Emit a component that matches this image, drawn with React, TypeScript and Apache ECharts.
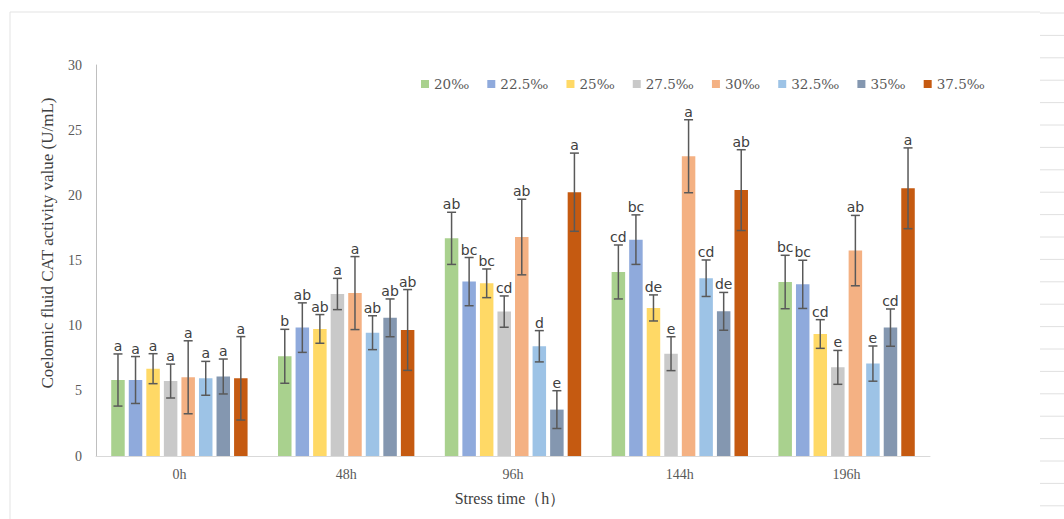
import React, { useEffect, useRef } from "react";
import * as echarts from "echarts";

const categories = ["0h", "48h", "96h", "144h", "196h"];
const seriesNames = ["20‰", "22.5‰", "25‰", "27.5‰", "30‰", "32.5‰", "35‰", "37.5‰"];
const colors = ["#A9D18E", "#8FAADC", "#FFD966", "#C9C9C9", "#F4B183", "#9DC3E6", "#8497B0", "#C55A11"];

// values per salinity series across the 5 time points
const v20 = [5.83, 7.65, 16.7, 14.12, 13.35];
const v225 = [5.83, 9.85, 13.38, 16.6, 13.17];
const v25 = [6.7, 9.75, 13.25, 11.36, 9.36];
const v275 = [5.75, 12.43, 11.08, 7.85, 6.8];
const v30 = [6.04, 12.5, 16.8, 23.0, 15.76];
const v325 = [5.96, 9.46, 8.42, 13.64, 7.09];
const v35 = [6.1, 10.6, 3.56, 11.1, 9.85];
const v375 = [5.96, 9.67, 20.24, 20.4, 20.54];

const e20 = [2.0, 2.07, 2.0, 2.07, 2.05];
const e225 = [1.8, 1.9, 1.85, 1.9, 1.85];
const e25 = [1.15, 1.1, 1.1, 1.0, 1.1];
const e275 = [1.3, 1.2, 1.2, 1.3, 1.3];
const e30 = [2.8, 2.8, 2.9, 2.8, 2.7];
const e325 = [1.3, 1.3, 1.2, 1.4, 1.35];
const e35 = [1.34, 1.45, 1.45, 1.45, 1.43];
const e375 = [3.2, 3.1, 3.0, 3.1, 3.1];

const l20 = ["a", "b", "ab", "cd", "bc"];
const l225 = ["a", "ab", "bc", "bc", "bc"];
const l25 = ["a", "ab", "bc", "de", "cd"];
const l275 = ["a", "a", "cd", "e", "e"];
const l30 = ["a", "a", "ab", "a", "ab"];
const l325 = ["a", "ab", "d", "cd", "e"];
const l35 = ["a", "ab", "e", "de", "cd"];
const l375 = ["a", "ab", "a", "ab", "a"];

const yTicks = { min: 0, max: 30, interval: 5 };

const values = [v20, v225, v25, v275, v30, v325, v35, v375];
const errors = [e20, e225, e25, e275, e30, e325, e35, e375];
const letters = [l20, l225, l25, l275, l30, l325, l35, l375];

const BAR_W = 13.5;
const BAR_GAP = 0.3;
const SERIF = "'Liberation Serif', 'Times New Roman', serif";

export default function App() {
  const ref = useRef<HTMLDivElement>(null);
  useEffect(() => {
    if (!ref.current) return;
    const chart = echarts.init(ref.current, null, { renderer: "svg" });
    const n = seriesNames.length;
    const pitch = BAR_W * (1 + BAR_GAP);

    const bars = seriesNames.map((name, i) => ({
      name,
      type: "bar",
      data: values[i],
      barWidth: BAR_W,
      barGap: BAR_GAP * 100 + "%",
      itemStyle: { color: colors[i] },
      z: 2,
    }));

    const errs = seriesNames.map((name, i) => ({
      name: "err_" + name,
      type: "custom",
      z: 5,
      data: values[i].map((v, k) => [k, v, errors[i][k]]),
      renderItem: (params: any, api: any) => {
        const k = api.value(0);
        const v = api.value(1);
        const e = api.value(2);
        const letter = letters[i][params.dataIndex];
        const off = (i - (n - 1) / 2) * pitch;
        const top = api.coord([k, v + e]);
        const bot = api.coord([k, v - e]);
        const x = top[0] + off;
        const cap = 4.5;
        const ls = { stroke: "#595959", lineWidth: 1.5 };
        return {
          type: "group",
          children: [
            { type: "line", shape: { x1: x, y1: top[1], x2: x, y2: bot[1] }, style: ls },
            { type: "line", shape: { x1: x - cap, y1: top[1], x2: x + cap, y2: top[1] }, style: ls },
            { type: "line", shape: { x1: x - cap, y1: bot[1], x2: x + cap, y2: bot[1] }, style: ls },
            {
              type: "text",
              style: {
                text: letter,
                x: x,
                y: top[1] - 1,
                align: "center",
                verticalAlign: "bottom",
                fill: "#404040",
                fontSize: 14,
                fontFamily: "'DejaVu Sans', sans-serif",
              },
            },
          ],
        };
      },
    }));

    const decoLines: any[] = [];
    for (let j = 0; j < 23; j++) {
      const y = 13 + j * 22.4;
      decoLines.push({
        type: "line",
        shape: { x1: 1040, y1: y, x2: 1064, y2: y },
        style: { stroke: "#e0e0e0", lineWidth: 1 },
        silent: true,
      });
    }

    chart.setOption({
      animation: false,
      backgroundColor: "#ffffff",
      grid: { left: 96, right: 134, top: 65, bottom: 63, containLabel: false },
      legend: {
        data: seriesNames,
        left: 416,
        top: 72,
        itemWidth: 8,
        itemHeight: 8,
        itemGap: 18,
        icon: "rect",
        textStyle: { color: "#595959", fontSize: 13.5, fontFamily: "'DejaVu Serif', serif" },
      },
      xAxis: {
        type: "category",
        data: categories,
        axisLine: { show: true, lineStyle: { color: "#d9d9d9", width: 1 } },
        axisTick: { show: false },
        axisLabel: { color: "#595959", fontSize: 14, fontFamily: SERIF, margin: 11 },
      },
      yAxis: {
        type: "value",
        min: yTicks.min,
        max: yTicks.max,
        interval: yTicks.interval,
        axisLine: { show: true, lineStyle: { color: "#bfbfbf", width: 1 } },
        axisTick: { show: false },
        splitLine: { show: false },
        axisLabel: { color: "#595959", fontSize: 14, fontFamily: SERIF, margin: 14 },
      },
      graphic: [
        { type: "line", shape: { x1: 10, y1: 12, x2: 1040, y2: 12 }, style: { stroke: "#e3e3e3", lineWidth: 1 }, silent: true },
        { type: "line", shape: { x1: 10, y1: 12, x2: 10, y2: 519 }, style: { stroke: "#e3e3e3", lineWidth: 1 }, silent: true },
        ...decoLines,
        {
          type: "text",
          x: 47,
          y: 243,
          rotation: Math.PI / 2,
          style: {
            text: "Coelomic fluid CAT activity value (U/mL)",
            align: "center",
            verticalAlign: "middle",
            fill: "#404040",
            fontSize: 17,
            fontFamily: SERIF,
          },
        },
        {
          type: "text",
          x: 510,
          y: 498,
          style: {
            text: "Stress time（h）",
            align: "center",
            verticalAlign: "middle",
            fill: "#404040",
            fontSize: 16,
            fontFamily: SERIF,
          },
        },
      ],
      series: [...bars, ...errs],
    });
    return () => chart.dispose();
  }, []);
  return (
    <div
      ref={ref}
      style={{ position: "fixed", left: 0, top: 0, width: 1064, height: 519 }}
    />
  );
}
